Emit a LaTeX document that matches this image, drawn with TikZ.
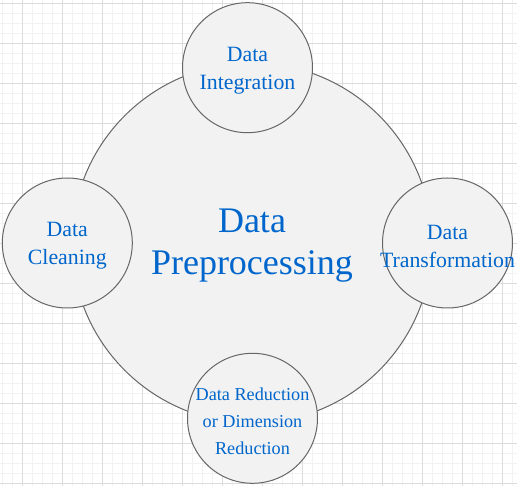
\documentclass[tikz,border=0pt]{standalone}
\usepackage{fontspec}
\setmainfont{Liberation Serif}
\usepackage{xcolor}

\definecolor{txtblue}{HTML}{0066CC}
\definecolor{bubblefill}{HTML}{F2F2F2}
\definecolor{bubbleline}{HTML}{666666}
\definecolor{minorgrid}{HTML}{F2F2F2}
\definecolor{majorgrid}{HTML}{DCDCDC}

\tikzset{
  bubble/.style={circle, draw=bubbleline, fill=bubblefill, line width=1pt,
    minimum size=130pt, inner sep=0pt},
  bigbubble/.style={bubble, minimum size=360pt},
  lbl/.style={align=center, text=txtblue, inner sep=0pt, yshift=-3pt,
    font=\fontsize{21.8}{28}\selectfont},
  minorline/.style={draw=minorgrid, line width=0.8pt},
  majorline/.style={draw=majorgrid, line width=0.8pt}
}

\begin{document}
\begin{tikzpicture}[x=1pt, y=-1pt]
\useasboundingbox (0,0) rectangle (517,486);
%\draw[help lines] (0,0) grid (517,486);
\foreach \x in {2.5,12.5,...,512.5} \draw[minorline] (\x,0) -- (\x,486);
\foreach \y in {3.3,13.3,...,483.3} \draw[minorline] (0,\y) -- (517,\y);
\foreach \x in {22.5,62.5,...,502.5} \draw[majorline] (\x,0) -- (\x,486);
\foreach \y in {3.3,43.3,...,483.3} \draw[majorline] (0,\y) -- (517,\y);

\node[bigbubble] (pre) at (252,243) {};
\node[lbl, font=\fontsize{36}{42}\selectfont] (pretxt) at (pre) {Data\\Preprocessing};

\node[bubble] (integ) at (247.5,67.7) {};
\node[bubble] (clean) at (67.3,243) {};
\node[bubble] (trans) at (447.5,243) {};
\node[bubble] (reduc) at (252.5,418.3) {};

\node[lbl] (integtxt) at (integ) {Data\\Integration};
\node[lbl] (cleantxt) at (clean) {Data\\Cleaning};
\node[lbl] (transtxt) at (trans) {Data\\Transformation};
\node[lbl, font=\fontsize{18.2}{26.7}\selectfont] (reductxt) at (reduc)
  {Data Reduction\\or Dimension\\Reduction};
\end{tikzpicture}
\end{document}
